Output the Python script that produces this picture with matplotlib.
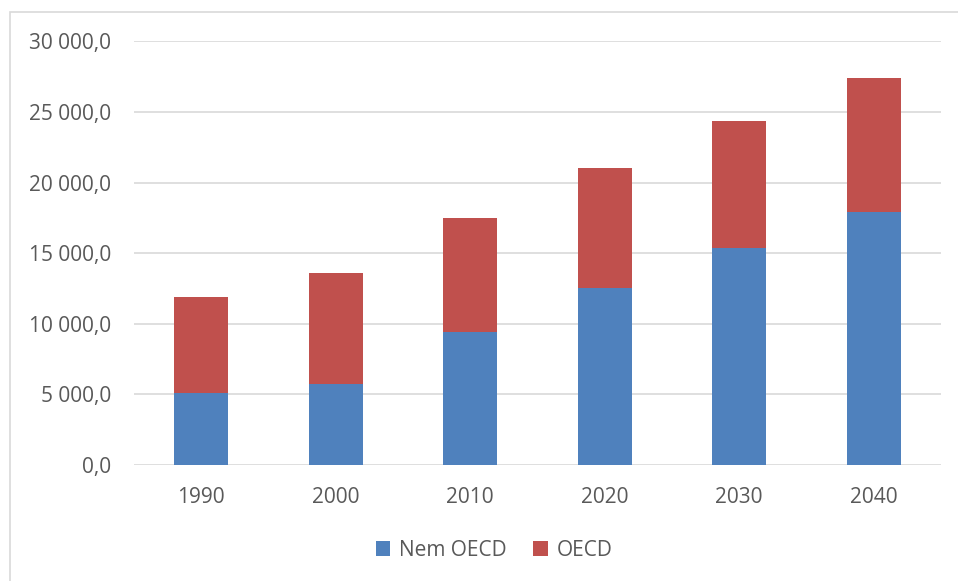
import matplotlib.pyplot as plt
from matplotlib.patches import Rectangle
from matplotlib.ticker import FuncFormatter

# data
years = ["1990", "2000", "2010", "2020", "2030", "2040"]
nem_oecd = [5120, 5710, 9390, 12530, 15360, 17880]
totals = [11870, 13590, 17480, 21020, 24350, 27390]
oecd = [t - n for t, n in zip(totals, nem_oecd)]

blue = "#4f81bd"
red = "#c0504d"
text_col = "#595959"
grid_col = "#d9d9d9"

plt.rcParams["font.family"] = ["Open Sans", "DejaVu Sans"]

W, H = 958, 581
fig = plt.figure(figsize=(W / 100, H / 100), dpi=100)

# plot area in pixels: left 134, right 941, top 41, bottom 465
left, right, top, bottom = 134, 941, 41.3, 465
ax = fig.add_axes([left / W, 1 - bottom / H, (right - left) / W, (bottom - top) / H])

x = range(len(years))
ax.bar(x, nem_oecd, width=0.4, color=blue, label="Nem OECD", zorder=3)
ax.bar(x, oecd, width=0.4, bottom=nem_oecd, color=red, label="OECD", zorder=3)

ax.set_xlim(-0.5, len(years) - 0.5)
ax.set_ylim(0, 30000)
ax.set_yticks(range(0, 30001, 5000))


def fmt(v, pos):
    s = f"{v:,.1f}".replace(",", " ").replace(".", ",")
    return s


ax.yaxis.set_major_formatter(FuncFormatter(fmt))
ax.set_xticks(list(x))
ax.set_xticklabels(years)
ax.grid(axis="y", color=grid_col, linewidth=1.2, zorder=0)
for s in ax.spines.values():
    s.set_visible(False)
ax.tick_params(axis="both", length=0, labelsize=15, colors=text_col)
ax.tick_params(axis="y", pad=16.5)
ax.tick_params(axis="x", pad=16)

# outer chart frame
fig.patches.append(Rectangle((10 / W, -0.1), 1.2, 1 - 12 / H + 0.1,
                             transform=fig.transFigure, fill=False,
                             edgecolor=grid_col, linewidth=1.2))

fig.legend(loc="center", bbox_to_anchor=(494 / W, 1 - 550 / H), ncol=2,
           frameon=False, fontsize=15, labelcolor=text_col,
           handlelength=0.7, handleheight=0.7, handletextpad=0.4,
           columnspacing=1.3)

fig.savefig("out.png", dpi=100)
